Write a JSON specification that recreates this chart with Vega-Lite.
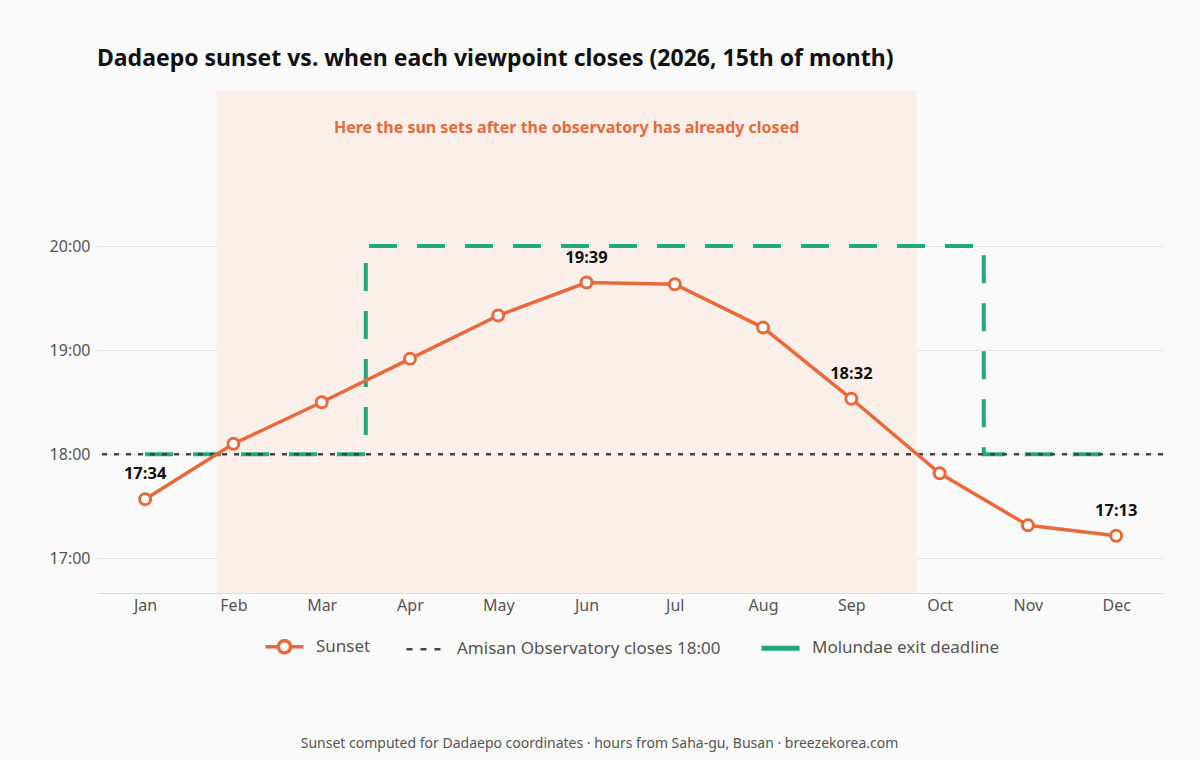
{
  "$schema": "https://vega.github.io/schema/vega-lite/v6.json",
  "autosize": "none",
  "width": 1066,
  "height": 503,
  "padding": {"left": 97, "top": 90, "right": 37, "bottom": 167},
  "background": "#fafafa",
  "title": {
    "text": "Dadaepo sunset vs. when each viewpoint closes (2026, 15th of month)",
    "anchor": "start",
    "frame": "group",
    "offset": 19,
    "font": "Noto Sans",
    "fontSize": 23,
    "fontWeight": "bold",
    "color": "#111111"
  },
  "config": {
    "view": {"stroke": null},
    "font": "Noto Sans"
  },
  "datasets": {
    "sunset": [
      {"m": 1, "month": "Jan", "hours": 17.567, "lbl": "17:34"},
      {"m": 2, "month": "Feb", "hours": 18.1, "lbl": null},
      {"m": 3, "month": "Mar", "hours": 18.5, "lbl": null},
      {"m": 4, "month": "Apr", "hours": 18.917, "lbl": null},
      {"m": 5, "month": "May", "hours": 19.333, "lbl": null},
      {"m": 6, "month": "Jun", "hours": 19.65, "lbl": "19:39"},
      {"m": 7, "month": "Jul", "hours": 19.633, "lbl": null},
      {"m": 8, "month": "Aug", "hours": 19.217, "lbl": null},
      {"m": 9, "month": "Sep", "hours": 18.533, "lbl": "18:32"},
      {"m": 10, "month": "Oct", "hours": 17.817, "lbl": null},
      {"m": 11, "month": "Nov", "hours": 17.317, "lbl": null},
      {"m": 12, "month": "Dec", "hours": 17.217, "lbl": "17:13"}
    ],
    "deadline": [
      {"m": 1, "hours": 18, "series": "Molundae exit deadline"},
      {"m": 2, "hours": 18, "series": "Molundae exit deadline"},
      {"m": 3, "hours": 18, "series": "Molundae exit deadline"},
      {"m": 4, "hours": 20, "series": "Molundae exit deadline"},
      {"m": 5, "hours": 20, "series": "Molundae exit deadline"},
      {"m": 6, "hours": 20, "series": "Molundae exit deadline"},
      {"m": 7, "hours": 20, "series": "Molundae exit deadline"},
      {"m": 8, "hours": 20, "series": "Molundae exit deadline"},
      {"m": 9, "hours": 20, "series": "Molundae exit deadline"},
      {"m": 10, "hours": 20, "series": "Molundae exit deadline"},
      {"m": 11, "hours": 18, "series": "Molundae exit deadline"},
      {"m": 12, "hours": 18, "series": "Molundae exit deadline"}
    ],
    "observatory": [
      {"hours": 18, "series": "Amisan Observatory closes 18:00"}
    ],
    "zone": [
      {"start": 1.81, "end": 9.74, "mid": 5.775, "low": 16.6667, "high": 21.5, "textY": 21.135, "note": "Here the sun sets after the observatory has already closed"}
    ]
  },
  "layer": [
    {
      "data": {"name": "zone"},
      "mark": {"type": "rect", "fill": "#fbf0e9", "opacity": 1},
      "encoding": {
        "x": {
          "field": "start", "type": "quantitative",
          "scale": {"domain": [0.455, 12.53], "nice": false, "zero": false},
          "axis": {
            "values": [1, 2, 3, 4, 5, 6, 7, 8, 9, 10, 11, 12],
            "labelExpr": "['Jan','Feb','Mar','Apr','May','Jun','Jul','Aug','Sep','Oct','Nov','Dec'][datum.value - 1]",
            "grid": false,
            "ticks": false,
            "domain": true,
            "domainColor": "#dddddd",
            "domainWidth": 1,
            "labelFont": "Noto Sans",
            "labelFontSize": 16,
            "labelColor": "#555555",
            "labelPadding": 4,
            "title": "Sunset computed for Dadaepo coordinates · hours from Saha-gu, Busan · breezekorea.com",
            "titleFont": "Noto Sans",
            "titleFontSize": 14,
            "titleFontWeight": "normal",
            "titleColor": "#555555",
            "titlePadding": 123,
            "titleX": 502,
            "titleAlign": "center"
          }
        },
        "x2": {"field": "end"},
        "y": {
          "field": "low", "type": "quantitative",
          "scale": {"domain": [16.6667, 21.5], "nice": false, "zero": false},
          "axis": {
            "values": [17, 18, 19, 20],
            "labelExpr": "datum.value + ':00'",
            "grid": true,
            "gridColor": "#e4e4e4",
            "gridWidth": 1,
            "ticks": false,
            "domain": false,
            "labelFont": "Noto Sans",
            "labelFontSize": 16,
            "labelColor": "#555555",
            "labelPadding": 7,
            "title": null
          }
        },
        "y2": {"field": "high"}
      }
    },
    {
      "data": {"name": "deadline"},
      "mark": {"type": "line", "interpolate": "step", "strokeWidth": 4, "strokeDash": [28, 20]},
      "encoding": {
        "x": {"field": "m", "type": "quantitative"},
        "y": {"field": "hours", "type": "quantitative"},
        "color": {
          "field": "series", "type": "nominal",
          "scale": {"domain": ["Sunset", "Amisan Observatory closes 18:00", "Molundae exit deadline"], "range": ["#e8693a", "#444444", "#1faa7c"]},
          "legend": {
            "orient": "none", "legendX": 179, "legendY": 548, "direction": "horizontal", "title": null,
            "symbolSize": 1444, "labelFont": "Noto Sans", "labelFontSize": 17, "labelColor": "#555555", "labelOffset": 23, "labelLimit": 0, "columnPadding": 30, "padding": 0,
            "encode": {"symbols": {"update": {
              "shape": {"signal": "datum.value === 'Sunset' ? 'M-1,0L-0.32,0M0.32,0L1,0M-0.32,0A0.32,0.32,0,1,0,0.32,0A0.32,0.32,0,1,0,-0.32,0' : 'stroke'"},
              "fill": {"signal": "datum.value === 'Sunset' ? 'white' : 'transparent'"},
              "strokeDash": {"signal": "datum.value === 'Amisan Observatory closes 18:00' ? [6, 8] : [1, 0]"},
              "strokeWidth": {"signal": "datum.value === 'Molundae exit deadline' ? 5 : datum.value === 'Sunset' ? 3.5 : 2.5"}
            }}}
          }
        }
      }
    },
    {
      "data": {"name": "observatory"},
      "mark": {"type": "rule", "strokeWidth": 2.5, "strokeDash": [5, 7]},
      "encoding": {
        "y": {"field": "hours", "type": "quantitative"},
        "color": {
          "field": "series", "type": "nominal",
          "scale": {"domain": ["Sunset", "Amisan Observatory closes 18:00", "Molundae exit deadline"], "range": ["#e8693a", "#444444", "#1faa7c"]}
        }
      }
    },
    {
      "data": {"name": "sunset"},
      "mark": {"type": "line", "strokeWidth": 3.5},
      "encoding": {
        "x": {"field": "m", "type": "quantitative"},
        "y": {"field": "hours", "type": "quantitative"},
        "color": {
          "datum": "Sunset", "type": "nominal",
          "scale": {"domain": ["Sunset", "Amisan Observatory closes 18:00", "Molundae exit deadline"], "range": ["#e8693a", "#444444", "#1faa7c"]}
        }
      }
    },
    {
      "data": {"name": "sunset"},
      "mark": {"type": "point", "shape": "circle", "filled": true, "fill": "white", "stroke": "#e8693a", "strokeWidth": 3, "size": 120, "opacity": 1},
      "encoding": {
        "x": {"field": "m", "type": "quantitative"},
        "y": {"field": "hours", "type": "quantitative"}
      }
    },
    {
      "data": {"name": "sunset"},
      "transform": [{"filter": "datum.lbl != null"}],
      "mark": {"type": "text", "font": "Noto Sans", "fontSize": 16.5, "fontWeight": "bold", "color": "#111111", "dy": -25, "baseline": "middle", "align": "center"},
      "encoding": {
        "x": {"field": "m", "type": "quantitative"},
        "y": {"field": "hours", "type": "quantitative"},
        "text": {"field": "lbl"}
      }
    },
    {
      "data": {"name": "zone"},
      "mark": {"type": "text", "font": "Noto Sans", "fontSize": 16, "fontWeight": "bold", "color": "#e8693a", "baseline": "middle", "align": "center"},
      "encoding": {
        "x": {"field": "mid", "type": "quantitative"},
        "y": {"field": "textY", "type": "quantitative"},
        "text": {"field": "note"}
      }
    }
  ]
}
